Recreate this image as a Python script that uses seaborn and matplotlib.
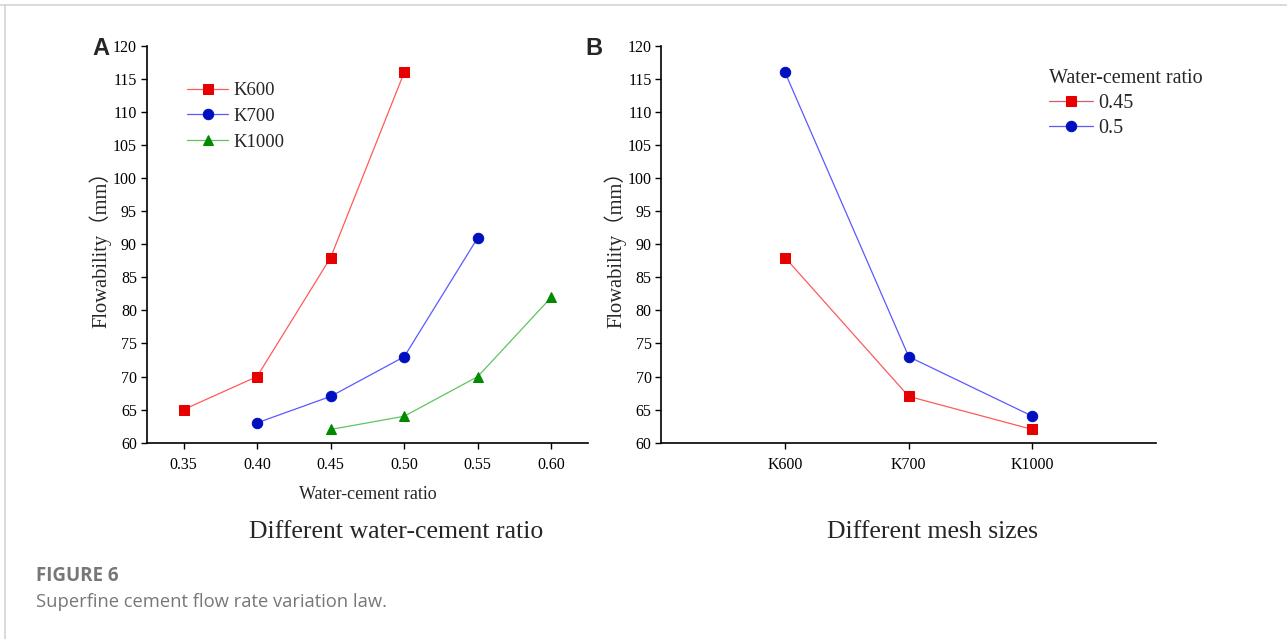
import pandas as pd
import matplotlib.pyplot as plt
import seaborn as sns

# Data
# Panel A: flowability vs water-cement ratio for each mesh size
k600_ratio = [0.35, 0.40, 0.45, 0.50]
k600_flow = [65, 70, 88, 116]
k700_ratio = [0.40, 0.45, 0.50, 0.55]
k700_flow = [63, 67, 73, 91]
k1000_ratio = [0.45, 0.50, 0.55, 0.60]
k1000_flow = [62, 64, 70, 82]

# Panel B: flowability vs mesh size for two water-cement ratios
mesh_sizes = ["K600", "K700", "K1000"]
flow_045 = [88, 67, 62]
flow_050 = [116, 73, 64]

x_ticks_a = [0.35, 0.40, 0.45, 0.50, 0.55, 0.60]
y_ticks = list(range(60, 121, 5))

sns.set_theme(style="white")
plt.rcParams["font.family"] = ["Liberation Serif", "Noto Sans CJK SC"]

fig = plt.figure(figsize=(12.87, 6.39), dpi=100)
axA = fig.add_axes([0.114, 0.3072, 0.343, 0.621])
axB = fig.add_axes([0.5138, 0.3072, 0.3846, 0.621])

red_line, red_mk = "#ff5a5a", "#e60000"
blue_line, blue_mk = "#5a5aff", "#0010c0"
green_line, green_mk = "#5ec45e", "#008a00"

# Panel A
series_a = [
    ("K600", k600_ratio, k600_flow, red_line, red_mk, "s", 6.5),
    ("K700", k700_ratio, k700_flow, blue_line, blue_mk, "o", 7.5),
    ("K1000", k1000_ratio, k1000_flow, green_line, green_mk, "^", 7.5),
]
for name, xs, ys, lc, mc, m, ms in series_a:
    df = pd.DataFrame({"ratio": xs, "flow": ys})
    sns.lineplot(data=df, x="ratio", y="flow", ax=axA, color=lc, lw=0.9,
                 marker=m, markersize=ms, markerfacecolor=mc,
                 markeredgecolor=mc, label=name)

axA.set_xlim(0.325, 0.625)
axA.set_xticks(x_ticks_a)
axA.set_xticklabels([f"{t:.2f}" for t in x_ticks_a])
axA.set_xlabel("Water-cement ratio", fontsize=13, labelpad=10)
axA.legend(loc="upper left", bbox_to_anchor=(0.1395, 0.883), bbox_transform=fig.transFigure,
           frameon=False, fontsize=13.5, handlelength=2.2, handletextpad=0.3,
           labelspacing=0.45, borderaxespad=0)

# Panel B
pos = list(range(len(mesh_sizes)))
series_b = [
    ("0.45", flow_045, red_line, red_mk, "s", 6.5),
    ("0.5", flow_050, blue_line, blue_mk, "o", 7.5),
]
for name, ys, lc, mc, m, ms in series_b:
    df = pd.DataFrame({"pos": pos, "flow": ys})
    sns.lineplot(data=df, x="pos", y="flow", ax=axB, color=lc, lw=0.9,
                 marker=m, markersize=ms, markerfacecolor=mc,
                 markeredgecolor=mc, label=name)

axB.set_xlim(-1, 3)
axB.set_xticks(pos)
axB.set_xticklabels(mesh_sizes)
axB.set_xlabel("")
legB = axB.legend(loc="upper left", bbox_to_anchor=(0.8087, 0.905), bbox_transform=fig.transFigure,
                  frameon=False, fontsize=14.5, title="Water-cement ratio", title_fontsize=14.5,
                  handlelength=2.2, handletextpad=0.25, labelspacing=0.3, borderaxespad=0,
                  alignment="left")
legB.get_lines()[0].set_color("#c86464")
legB.get_lines()[0].set_markerfacecolor(red_mk)
legB.get_lines()[0].set_markeredgecolor(red_mk)

for ax in (axA, axB):
    ax.set_ylim(60, 120)
    ax.set_yticks(y_ticks)
    ax.set_ylabel("Flowability（mm）", fontsize=14.8, labelpad=1)
    sns.despine(ax=ax)
    for s in ("left", "bottom"):
        ax.spines[s].set_color("black")
        ax.spines[s].set_linewidth(1.2)
    ax.tick_params(axis="both", direction="out", length=4, width=1, colors="black",
                   labelsize=11.5, bottom=True, left=True, pad=3)
    ax.tick_params(axis="x", pad=6)

# Panel letters and subtitles
fig.text(0.0715, 0.924, "A", fontsize=17, fontweight="bold", family="Liberation Sans", va="center")
fig.text(0.4545, 0.924, "B", fontsize=17, fontweight="bold", family="Liberation Sans", va="center")
fig.text(0.3077, 0.168, "Different water-cement ratio", fontsize=18.5, ha="center", va="center")
fig.text(0.7245, 0.168, "Different mesh sizes", fontsize=18.5, ha="center", va="center")

# Caption
fig.text(0.028, 0.099, "FIGURE 6", fontsize=13.5, fontweight="bold", family="Open Sans",
         color="#777777", va="center")
fig.text(0.028, 0.058, "Superfine cement flow rate variation law.", fontsize=13.2,
         family="Open Sans", color="#777777", va="center")

# Page frame lines
fig.add_artist(plt.Line2D([0, 1], [0.992, 0.992], color="#d4d4d4", lw=1.2))
fig.add_artist(plt.Line2D([0.0035, 0.0035], [0, 0.992], color="#d4d4d4", lw=1.2))

fig.savefig("out.png", dpi=100)
